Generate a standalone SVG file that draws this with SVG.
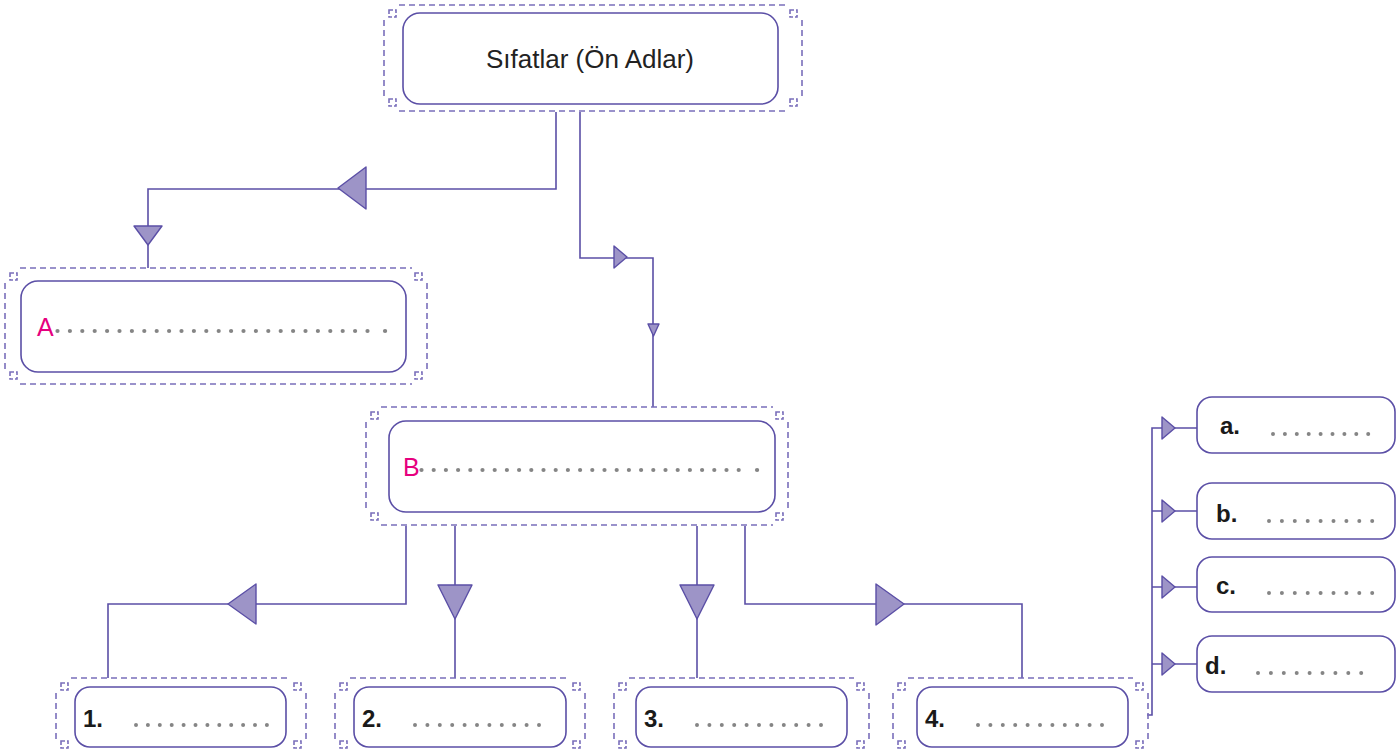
<svg xmlns="http://www.w3.org/2000/svg" width="1399" height="751" viewBox="0 0 1399 751">
<defs>
<style>
.frame{fill:none;stroke:#7a6fbb;stroke-width:1.6;stroke-dasharray:6 4}
.sq{fill:none;stroke:#7a6fbb;stroke-width:1.6;stroke-dasharray:4 2}
.box{fill:#fff;stroke:#5b4fa6;stroke-width:1.6}
.ln{fill:none;stroke:#5b4fa6;stroke-width:1.6}
.ah{fill:#9d94c7;stroke:#5b4fa6;stroke-width:1.4;stroke-linejoin:round}
.dots{fill:none;stroke:#858585;stroke-width:4.2;stroke-linecap:round}
.sdots{fill:none;stroke:#858585;stroke-width:4;stroke-linecap:round}
.title{font-family:"Liberation Sans",Arial,sans-serif;font-size:26px;fill:#222}
.pink{font-family:"Liberation Sans",Arial,sans-serif;font-size:25px;fill:#e6007e}
.lbl{font-family:"Liberation Sans",Arial,sans-serif;font-size:24px;font-weight:bold;fill:#1a1a1a}
</style>
</defs>
<rect width="1399" height="751" fill="#fff"/>

<g id="connectors">
<path class="ln" d="M556,112 V189 H148 V268"/>
<path class="ln" d="M580,112 V258 H653 V407"/>
<path class="ln" d="M406,526 V604 H108 V678"/>
<path class="ln" d="M455,526 V678"/>
<path class="ln" d="M697,526 V678"/>
<path class="ln" d="M745,526 V604 H1022 V678"/>
<path class="ln" d="M1147,715 H1152 V428 H1197 M1152,511 H1197 M1152,587 H1197 M1152,664 H1197"/>
<polygon class="ah" points="338,188 366,167 366,209"/>
<polygon class="ah" points="134,226 162,226 148,245"/>
<polygon class="ah" points="614,246 614,268 627,257"/>
<polygon class="ah" points="648,324 659,324 653.5,336"/>
<polygon class="ah" points="228,604 256,584 256,624"/>
<polygon class="ah" points="438,585 472,585 455,619"/>
<polygon class="ah" points="680,585 714,585 697,619"/>
<polygon class="ah" points="876,584 876,625 904,604"/>
<polygon class="ah" points="1162,417 1162,439 1175,428"/>
<polygon class="ah" points="1162,500 1162,522 1175,511"/>
<polygon class="ah" points="1162,576 1162,598 1175,587"/>
<polygon class="ah" points="1162,653 1162,675 1175,664"/>
</g>

<g id="node-root">
<path class="frame" d="M399,5 H787 M802,20 V96 M399,111 H787 M384,20 V96"/>
<rect class="sq" x="389" y="10" width="7" height="7"/><rect class="sq" x="790" y="10" width="7" height="7"/>
<rect class="sq" x="389" y="99" width="7" height="7"/><rect class="sq" x="790" y="99" width="7" height="7"/>
<rect class="box" x="403" y="13" width="375" height="91" rx="17"/>
<text class="title" x="590" y="68" text-anchor="middle">Sıfatlar (Ön Adlar)</text>
</g>

<g id="node-A">
<path class="frame" d="M20,268 H412 M427,283 V369 M20,384 H412 M5,283 V369"/>
<rect class="sq" x="10" y="273" width="7" height="7"/><rect class="sq" x="415" y="273" width="7" height="7"/>
<rect class="sq" x="10" y="372" width="7" height="7"/><rect class="sq" x="415" y="372" width="7" height="7"/>
<rect class="box" x="21" y="281" width="385" height="91" rx="17"/>
<text class="pink" x="37" y="336">A</text>
<path class="dots" d="M57.5,331 H368" stroke-dasharray="0 12.4"/>
<path class="dots" d="M385,331 h0.1"/>
</g>

<g id="node-B">
<path class="frame" d="M381,407 H773 M788,422 V510 M381,525 H773 M366,422 V510"/>
<rect class="sq" x="371" y="412" width="7" height="7"/><rect class="sq" x="776" y="412" width="7" height="7"/>
<rect class="sq" x="371" y="513" width="7" height="7"/><rect class="sq" x="776" y="513" width="7" height="7"/>
<rect class="box" x="389" y="421" width="386" height="91" rx="17"/>
<text class="pink" x="403" y="476">B</text>
<path class="dots" d="M421.5,470 H740" stroke-dasharray="0 12.2"/>
<path class="dots" d="M757,470 h0.1"/>
</g>

<g id="node-1">
<path class="frame" d="M71,678 H291 M306,693 V740 M56,693 V740"/>
<rect class="sq" x="61" y="683" width="7" height="7"/><rect class="sq" x="294" y="683" width="7" height="7"/>
<rect class="sq" x="61" y="741" width="7" height="7"/><rect class="sq" x="294" y="741" width="7" height="7"/>
<rect class="box" x="75" y="687" width="211" height="60" rx="15"/>
<text class="lbl" x="83" y="727">1.</text>
<path class="sdots" d="M136,725 H268" stroke-dasharray="0 11.9"/>
</g>

<g id="node-2">
<path class="frame" d="M350,678 H570 M585,693 V740 M335,693 V740"/>
<rect class="sq" x="340" y="683" width="7" height="7"/><rect class="sq" x="573" y="683" width="7" height="7"/>
<rect class="sq" x="340" y="741" width="7" height="7"/><rect class="sq" x="573" y="741" width="7" height="7"/>
<rect class="box" x="354" y="687" width="212" height="60" rx="15"/>
<text class="lbl" x="362" y="727">2.</text>
<path class="sdots" d="M415,725 H541" stroke-dasharray="0 12.4"/>
</g>

<g id="node-3">
<path class="frame" d="M629,678 H854 M869,693 V740 M614,693 V740"/>
<rect class="sq" x="619" y="683" width="7" height="7"/><rect class="sq" x="857" y="683" width="7" height="7"/>
<rect class="sq" x="619" y="741" width="7" height="7"/><rect class="sq" x="857" y="741" width="7" height="7"/>
<rect class="box" x="636" y="687" width="211" height="60" rx="15"/>
<text class="lbl" x="644" y="727">3.</text>
<path class="sdots" d="M697,725 H823" stroke-dasharray="0 12.4"/>
</g>

<g id="node-4">
<path class="frame" d="M908,678 H1133 M1148,693 V740 M893,693 V740"/>
<rect class="sq" x="898" y="683" width="7" height="7"/><rect class="sq" x="1136" y="683" width="7" height="7"/>
<rect class="sq" x="898" y="741" width="7" height="7"/><rect class="sq" x="1136" y="741" width="7" height="7"/>
<rect class="box" x="917" y="687" width="211" height="60" rx="15"/>
<text class="lbl" x="925" y="727">4.</text>
<path class="sdots" d="M978,725 H1104" stroke-dasharray="0 12.4"/>
</g>

<g id="node-a">
<rect class="box" x="1197" y="397" width="198" height="56" rx="15"/>
<text class="lbl" x="1220" y="434">a.</text>
<path class="sdots" d="M1273,434 H1370" stroke-dasharray="0 11.9"/>
</g>
<g id="node-b">
<rect class="box" x="1197" y="483" width="198" height="56" rx="15"/>
<text class="lbl" x="1216" y="522">b.</text>
<path class="sdots" d="M1269,521 H1374" stroke-dasharray="0 12.9"/>
</g>
<g id="node-c">
<rect class="box" x="1197" y="557" width="198" height="55" rx="15"/>
<text class="lbl" x="1216" y="594">c.</text>
<path class="sdots" d="M1269,593 H1374" stroke-dasharray="0 12.9"/>
</g>
<g id="node-d">
<rect class="box" x="1197" y="636" width="198" height="56" rx="15"/>
<text class="lbl" x="1205" y="674">d.</text>
<path class="sdots" d="M1258,673 H1363" stroke-dasharray="0 12.9"/>
</g>
</svg>
